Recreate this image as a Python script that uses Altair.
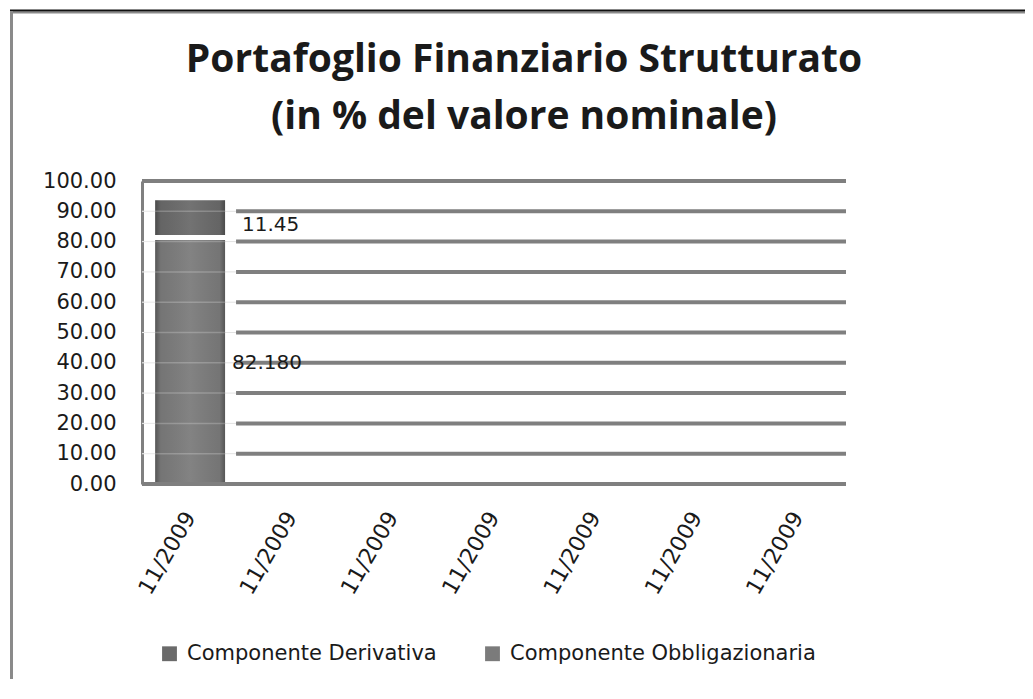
import altair as alt
import pandas as pd

# ---------------- data ----------------
categories = ["11/2009", "11/2009", "11/2009", "11/2009", "11/2009", "11/2009", "11/2009"]
series = ["Componente Derivativa", "Componente Obbligazionaria"]
derivativa = [11.45]          # only the first period has values
obbligazionaria = [82.18]
label_derivativa = ["11.45"]
label_obbligazionaria = ["82.180"]
y_ticks = [0, 10, 20, 30, 40, 50, 60, 70, 80, 90, 100]
inner_grid = [10, 20, 30, 40, 50, 60, 70, 80, 90]
outer_grid = [0, 100]

cat_ids = list(range(len(categories)))

rows = []
for i, v in enumerate(obbligazionaria):
    rows.append({"cat": i, "series": series[1], "value": v, "label": label_obbligazionaria[i], "order": 0})
for i, v in enumerate(derivativa):
    rows.append({"cat": i, "series": series[0], "value": v, "label": label_derivativa[i], "order": 1})
df = pd.DataFrame(rows)

grid_in = pd.DataFrame({"gy": inner_grid, "cat": 0})
grid_out = pd.DataFrame({"gy": outer_grid, "cat": 0})

W, H = 704, 303

label_expr = "[" + ",".join("'" + c + "'" for c in categories) + "][datum.value]"

xscale = alt.Scale(domain=cat_ids, paddingInner=0.31, paddingOuter=0.13)
xaxis = alt.Axis(title=None, labelExpr=label_expr, labelAngle=300, labelAlign="right",
                 labelBaseline="middle", labelFont="DejaVu Sans", labelFontSize=22,
                 labelColor="#1a1a1a", labelPadding=29, ticks=False, domain=False, grid=False)
yscale = alt.Scale(domain=[0, 100], nice=False)
yaxis = alt.Axis(title=None, values=y_ticks, format=".2f", labelFont="DejaVu Sans",
                 labelFontSize=21, labelColor="#1a1a1a", labelPadding=26, ticks=False,
                 domain=True, domainColor="#808080", domainWidth=3, grid=False)

def X(band=0.5):
    return alt.X("cat:O", bandPosition=band, scale=xscale, axis=xaxis)

color = alt.Color("series:N", scale=alt.Scale(domain=series, range=["#6a6a6a", "#7b7b7b"]),
                  legend=alt.Legend(title=None, orient="none", legendX=17, legendY=462,
                                    direction="horizontal", symbolType="square", symbolSize=220,
                                    symbolStrokeWidth=0, labelFont="DejaVu Sans", labelFontSize=21,
                                    labelColor="#1a1a1a", labelOffset=7, columnPadding=45,
                                    labelLimit=500, padding=0))

base = alt.Chart(df).transform_stack(
    stack="value", groupby=["cat"], as_=["start", "end"], sort=[alt.SortField("order")]
).transform_calculate(mid="(datum.start + datum.end) / 2")

ysc = lambda f: alt.Y(f, scale=yscale, axis=yaxis)

# faint grid under the bars
faint = alt.Chart(grid_in).mark_rule(color="#e2e2e2", strokeWidth=1).encode(
    x=alt.value(0), x2=alt.value(W), y=ysc("gy:Q"))

bar_ob = base.transform_filter(alt.datum.series == series[1]).mark_bar(yOffset=5).encode(
    x=X(), y=ysc("end:Q"), y2="start:Q", color=color)
bar_de = base.transform_filter(alt.datum.series == series[0]).mark_bar().encode(
    x=X(), y=ysc("end:Q"), y2="start:Q", color=color)

shade = alt.LinearGradient(gradient="linear", x1=0, x2=1, y1=0, y2=0, stops=[
    alt.GradientStop(offset=0, color="rgba(0,0,0,0.30)"),
    alt.GradientStop(offset=0.08, color="rgba(0,0,0,0.05)"),
    alt.GradientStop(offset=0.5, color="rgba(255,255,255,0.06)"),
    alt.GradientStop(offset=0.92, color="rgba(0,0,0,0.05)"),
    alt.GradientStop(offset=1, color="rgba(0,0,0,0.30)")])
shade_ob = base.transform_filter(alt.datum.series == series[1]).mark_bar(yOffset=5, fill=shade).encode(
    x=X(), y=ysc("end:Q"), y2="start:Q")
shade_de = base.transform_filter(alt.datum.series == series[0]).mark_bar(fill=shade).encode(
    x=X(), y=ysc("end:Q"), y2="start:Q")

# light lines showing through the bar
through = alt.Chart(grid_in).mark_rule(color="#ffffff", opacity=0.22, strokeWidth=1.5).encode(
    x=X(1), x2=alt.value(0), y=ysc("gy:Q"))

thick = alt.Chart(grid_in).mark_rule(color="#7f7f7f", strokeWidth=4, xOffset=11).encode(
    x=X(1), x2=alt.value(W), y=ysc("gy:Q"))
frame_lines = alt.Chart(grid_out).mark_rule(color="#7f7f7f", strokeWidth=4).encode(
    x=alt.value(0), x2=alt.value(W), y=ysc("gy:Q"))

txt_ob = base.transform_filter(alt.datum.series == series[1]).mark_text(
    align="left", baseline="middle", dx=7, dy=4, font="DejaVu Sans", fontSize=20, color="#1a1a1a"
).encode(x=X(1), y=ysc("mid:Q"), text="label:N")
txt_de = base.transform_filter(alt.datum.series == series[0]).mark_text(
    align="left", baseline="middle", dx=17, dy=7, font="DejaVu Sans", fontSize=20, color="#1a1a1a"
).encode(x=X(1), y=ysc("mid:Q"), text="label:N")

# outer frame of the original picture
border = pd.DataFrame({"k": [0]})
top_gray = alt.Chart(border).mark_rule(color="#8a8a8a", strokeWidth=2).encode(
    x=alt.value(-131), x2=alt.value(900), y=alt.value(-168.5))
top_black = alt.Chart(border).mark_rule(color="#111111", strokeWidth=2).encode(
    x=alt.value(-132), x2=alt.value(900), y=alt.value(-170.5))
left_gray = alt.Chart(border).mark_rule(color="#8a8a8a", strokeWidth=3).encode(
    x=alt.value(-130.5), y=alt.value(-170), y2=alt.value(520))

chart = alt.layer(
    faint, bar_ob, bar_de, shade_ob, shade_de, through, thick, frame_lines, txt_ob, txt_de,
    top_gray, top_black, left_gray
).properties(
    width=W, height=H,
    title=alt.TitleParams(text=["Portafoglio Finanziario Strutturato", "(in % del valore nominale)"],
                          font="Open Sans", fontSize=39, fontWeight="bold", lineHeight=57,
                          anchor="middle", frame="group", dx=30, offset=-127, color="#1a1a1a"),
    autosize=alt.AutoSizeParams(type="none"),
    padding={"left": 134, "top": 173, "right": 179, "bottom": 195},
).configure_view(stroke=None, strokeWidth=0)

chart.save("out.html", embed_options={"renderer": "svg", "actions": False})
